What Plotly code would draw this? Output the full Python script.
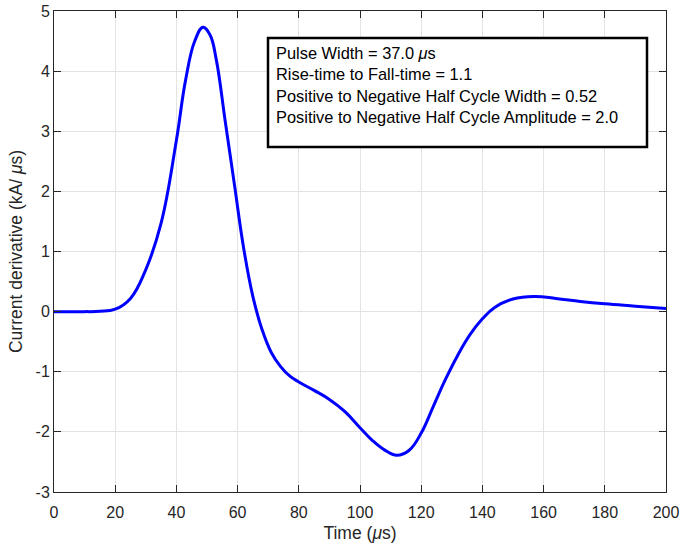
import plotly.graph_objects as go

time_us = [0, 5, 10, 15, 20, 25, 30, 35, 40, 43, 46, 48.7, 51, 53, 56, 59, 62, 65, 68, 71,
           74, 77, 80, 85, 90, 95, 100, 104, 108, 112, 116, 120, 124, 128, 132, 136, 140, 144,
           150, 157, 164, 172, 180, 190, 200]
didt = [0, 0, 0, 0.005, 0.04, 0.22, 0.7, 1.47, 2.85, 3.85, 4.5, 4.73, 4.6, 4.2, 3.15, 2.1, 1.05,
        0.25, -0.3, -0.68, -0.91, -1.07, -1.17, -1.31, -1.46, -1.66, -1.93, -2.14, -2.3,
        -2.39, -2.31, -2.02, -1.57, -1.12, -0.72, -0.38, -0.12, 0.07, 0.21, 0.25, 0.22, 0.17,
        0.13, 0.09, 0.05]

x_ticks = [0, 20, 40, 60, 80, 100, 120, 140, 160, 180, 200]
y_ticks = [-3, -2, -1, 0, 1, 2, 3, 4, 5]
info_lines = [
    "Pulse Width = 37.0 <i>μ</i>s",
    "Rise-time to Fall-time = 1.1",
    "Positive to Negative Half Cycle Width = 0.52",
    "Positive to Negative Half Cycle Amplitude = 2.0",
]

axis_col = "#262626"
font_family = "Liberation Sans, Arial, sans-serif"

fig = go.Figure()
fig.add_trace(go.Scatter(x=time_us, y=didt, mode="lines",
                         line=dict(color="#0000ff", width=3, shape="spline", smoothing=1.2),
                         showlegend=False, hoverinfo="skip"))

common_axis = dict(showline=True, linecolor=axis_col, linewidth=1, mirror="allticks",
                   ticks="inside", ticklen=7, tickcolor=axis_col, tickwidth=1,
                   showgrid=True, gridcolor="#e3e3e3", gridwidth=1, zeroline=False,
                   automargin=False,
                   tickfont=dict(size=16, color=axis_col, family=font_family))

fig.update_xaxes(range=[0, 200], tickvals=x_ticks, ticktext=[str(v) for v in x_ticks],
                 ticklabelstandoff=6,
                 title=dict(text="Time (<i>μ</i>s)", font=dict(size=17.5, color=axis_col, family=font_family),
                            standoff=6),
                 **common_axis)
fig.update_yaxes(range=[-3, 5], tickvals=y_ticks, ticktext=[str(v) for v in y_ticks],
                 title=dict(text="Current derivative (kA/ <i>μ</i>s)",
                            font=dict(size=17.5, color=axis_col, family=font_family), standoff=8),
                 **common_axis)

# info box
fig.add_shape(type="rect", xref="paper", yref="paper",
              x0=(268 - 54) / 612, x1=(647 - 54) / 612,
              y0=(492 - 147) / 481, y1=(492 - 38) / 481,
              line=dict(color="black", width=2.5), fillcolor="white", layer="above")
fig.add_annotation(xref="paper", yref="paper", x=(274 - 54) / 612, y=(492 - 42) / 481,
                   xanchor="left", yanchor="top", align="left", showarrow=False,
                   text="<br>".join(info_lines),
                   font=dict(size=16.4, color="black", family=font_family))

fig.update_layout(width=695, height=544, paper_bgcolor="white", plot_bgcolor="white",
                  margin=dict(l=54, r=29, t=11, b=52),
                  font=dict(family=font_family, color=axis_col))

fig.write_html("out.html")
